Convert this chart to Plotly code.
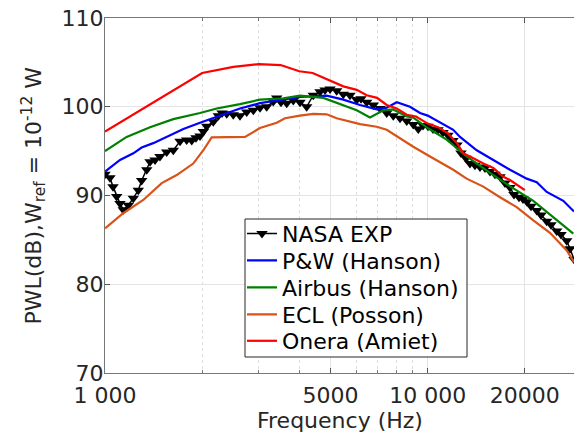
import plotly.graph_objects as go

# ---------------- data ----------------
nasa_f = [1000, 1036, 1059, 1087, 1113, 1139, 1181, 1224, 1268, 1299, 1347, 1379,
          1429, 1480, 1553, 1628, 1708, 1791, 1857, 1914, 1970, 2017, 2066, 2166,
          2245, 2305, 2384, 2498, 2620, 2749, 2882, 3022, 3170, 3323, 3405, 3511,
          3657, 3833, 4021, 4217, 4420, 4638, 4807, 4982, 5224, 5476, 5744, 6026,
          6214, 6471, 6783, 7115, 7464, 7824, 8209, 8610, 9023, 9352, 9672, 10023,
          10385, 10762, 11153, 11557, 11977, 12324, 12681, 13141, 13522, 14014,
          14523, 15050, 15597, 16163, 16750, 17358, 17989, 18510, 19187, 19738,
          20310, 20898, 21770, 22447, 23380, 24110, 25110, 25890, 26970, 27610, 28410]
nasa_v = [92.4, 92.0, 91.0, 89.9, 89.1, 88.4, 88.9, 89.7, 90.6, 91.7, 92.9, 93.8,
          94.0, 94.4, 94.9, 95.1, 96.1, 96.25, 96.2, 96.5, 96.7, 97.2, 97.8, 98.3,
          99.0, 99.3, 99.2, 99.1, 99.0, 99.4, 99.6, 99.9, 100.0, 100.6, 101.0, 100.5,
          100.4, 100.7, 100.5, 100.0, 101.3, 101.7, 101.9, 102.0, 101.8, 101.4, 101.3, 100.8,
          100.9, 100.5, 100.2, 99.8, 99.3, 99.0, 98.7, 98.4, 98.0, 97.5, 97.9, 97.8,
          97.5, 97.4, 97.1, 96.8, 96.2, 95.7, 94.8, 94.2, 93.6, 93.4,
          93.2, 93.1, 92.7, 92.4, 92.1, 91.4, 90.9, 90.1, 89.8, 89.6,
          89.3, 88.8, 88.3, 87.8, 87.1, 86.7, 86.0, 85.6, 84.9, 84.0, 82.8]

pw_f = [1000, 1113, 1224, 1299, 1411, 1553, 1749, 1970, 2220, 2620, 3022, 3568,
        4021, 4864, 5476, 6170, 6950, 7464, 8017, 8814, 9467, 10000, 11150, 12000,
        12594, 14190, 15970, 17990, 20270, 21770, 23380, 26320, 28410]
pw_v = [92.7, 94.0, 94.75, 95.4, 95.9, 96.6, 97.5, 98.2, 98.9, 99.8, 100.4, 100.8,
        101.1, 101.25, 100.8, 100.2, 99.7, 99.9, 100.5, 100.0, 99.3, 99.0, 98.1, 97.4,
        96.6, 95.1, 94.0, 92.9, 91.9, 91.5, 90.4, 89.4, 88.2]

ab_f = [1000, 1167, 1379, 1628, 1970, 2220, 2620, 3022, 3568, 4021, 4750, 5476,
        6026, 6626, 7286, 7824, 8610, 9000, 10000, 11450, 13200, 15970, 18420,
        21250, 23930, 28270]
ab_v = [95.0, 96.6, 97.7, 98.6, 99.3, 99.8, 100.3, 100.8, 100.95, 101.25, 101.0, 100.2,
        99.6, 98.8, 99.6, 99.7, 98.9, 98.8, 97.6, 96.3, 94.4, 92.3, 90.8,
        89.4, 87.9, 85.7]

ecl_f = [1000, 1139, 1314, 1499, 1668, 1877, 2017, 2141, 2716, 3022, 3405, 3613,
         4021, 4420, 4864, 5224, 6170, 6950, 7464, 8209, 9023, 10166, 12000, 13200,
         14870, 16750, 18870, 21250, 23930, 26970, 28410]
ecl_v = [86.3, 88.0, 89.5, 91.4, 92.3, 93.6, 95.1, 96.55, 96.6, 97.6, 98.2, 98.7,
         99.0, 99.2, 99.15, 98.7, 98.05, 97.75, 97.4, 96.4, 95.5, 94.4, 92.9, 91.9,
         91.0, 89.8, 88.7, 87.2, 85.8, 83.8, 82.5]

on_f = [1000, 2000, 2500, 3000, 3500, 4000, 4400, 4982, 5476, 6026, 6471, 6966,
        7464, 8017, 8610, 9200, 10000, 10762, 11557, 12324, 12893, 13850, 14870,
        15970, 17150, 17989, 18870, 20000]
on_v = [97.2, 103.8, 104.5, 104.8, 104.7, 104.0, 103.8, 103.0, 102.3, 101.9, 101.3, 101.0,
        100.2, 99.8, 99.1, 98.9, 98.1, 97.7, 97.0, 95.9, 94.75, 94.2, 93.6,
        93.1, 92.1, 91.75, 91.2, 90.6]

series_names = ["NASA EXP", "P&W (Hanson)", "Airbus (Hanson)", "ECL (Posson)", "Onera (Amiet)"]

x_tickvals = [1000, 5000, 10000, 20000]
x_ticktext = ["1 000", "5000", "10 000", "20000"]
x_minor = [2000, 3000, 4000, 6000, 7000, 8000, 9000, 30000]
y_tickvals = [70, 80, 90, 100, 110]

x_title = "Frequency (Hz)"
y_title = "PWL(dB),W<sub>ref</sub> = 10<sup>-12</sup> W"

# ---------------- figure ----------------
FONT = "DejaVu Sans"
TXT = "#262626"
W, H = 574, 434
ML, MR, MT, MB = 105, 0, 18, 61
PW, PH = W - ML - MR, H - MT - MB

def px_x(px):
    return (px - ML) / PW

def px_y(py):
    return (H - MB - py) / PH

fig = go.Figure()
styles = [
    dict(mode="lines+markers", line=dict(color="black", width=1.5),
         marker=dict(symbol="triangle-down", size=10, color="black")),
    dict(mode="lines", line=dict(color="#0000ff", width=2.2)),
    dict(mode="lines", line=dict(color="#008000", width=2.2)),
    dict(mode="lines", line=dict(color="#D95319", width=2.2)),
    dict(mode="lines", line=dict(color="#ff0000", width=2.2)),
]
data = [(nasa_f, nasa_v), (pw_f, pw_v), (ab_f, ab_v), (ecl_f, ecl_v), (on_f, on_v)]
legend_ids = ["legend", "legend2", "legend3", "legend4", "legend5"]
for (xs, ys), nm, st, lg in zip(data, series_names, styles, legend_ids):
    fig.add_trace(go.Scatter(x=xs, y=ys, name=nm, legend=lg, **st))

# legend rows (one legend per row, to match the reference row pitch)
row_centers_px = [233.7, 260.5, 287.5, 314.5, 341.0]
leg_common = dict(xanchor="left", yanchor="middle", bgcolor="rgba(0,0,0,0)",
                  borderwidth=0, itemwidth=30,
                  font=dict(family=FONT, size=22, color="black"))
leg_layout = {}
for lg, cy in zip(legend_ids, row_centers_px):
    leg_layout[lg] = dict(x=px_x(242), y=px_y(cy), **leg_common)

fig.update_layout(
    width=W, height=H,
    margin=dict(l=ML, r=MR, t=MT, b=MB, autoexpand=False),
    paper_bgcolor="white", plot_bgcolor="white",
    font=dict(family=FONT, size=22, color=TXT),
    showlegend=True,
    **leg_layout,
    shapes=[dict(type="rect", xref="paper", yref="paper",
                 x0=px_x(245), x1=px_x(467), y0=px_y(357), y1=px_y(219),
                 line=dict(color=TXT, width=1), fillcolor="white", layer="above")],
    annotations=[
        dict(text=x_title, xref="paper", yref="paper", x=0.5, y=0,
             xanchor="center", yanchor="middle", yshift=-47, showarrow=False,
             font=dict(family=FONT, size=22, color=TXT)),
        dict(text=y_title, xref="paper", yref="paper", x=0, y=0.5,
             xanchor="center", yanchor="middle", xshift=-72, textangle=-90,
             showarrow=False, font=dict(family=FONT, size=22, color=TXT)),
    ],
)
fig.update_xaxes(
    type="log", range=[3, 4.4534], automargin=False,
    tickmode="array", tickvals=x_tickvals, ticktext=x_ticktext,
    ticks="inside", ticklen=5, tickcolor="#555", ticklabelstandoff=3,
    showline=True, linecolor="#777", linewidth=1, mirror="ticks",
    showgrid=True, gridcolor="#e4e4e4", gridwidth=1,
    minor=dict(tickvals=x_minor, ticks="inside", ticklen=3, tickcolor="#777",
               showgrid=True, gridcolor="#dddddd", griddash="dot", gridwidth=1),
    zeroline=False,
    tickfont=dict(family=FONT, size=22, color=TXT),
)
fig.update_yaxes(
    range=[70, 110], tickmode="array", tickvals=y_tickvals, automargin=False,
    ticks="inside", ticklen=5, tickcolor="#555", ticklabelstandoff=-4,
    showline=True, linecolor="#777", linewidth=1, mirror=False,
    showgrid=True, gridcolor="#e4e4e4", gridwidth=1, zeroline=False,
    tickfont=dict(family=FONT, size=22, color=TXT),
)

fig.write_html("out.html", config={"displayModeBar": False},
               post_script="document.body.style.margin='0';document.body.style.overflow='hidden';")
